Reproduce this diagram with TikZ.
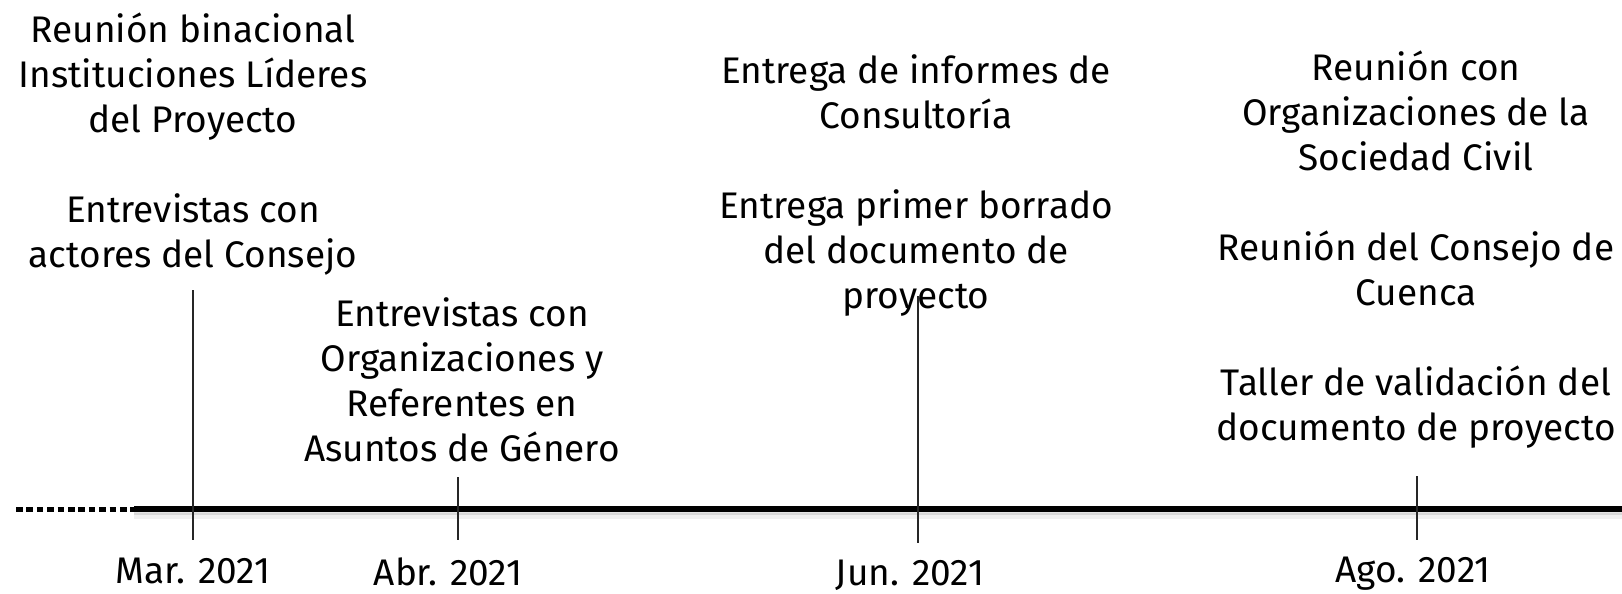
\documentclass[tikz,border=0pt]{standalone}
\usepackage{fontspec}
\setmainfont{Fira Sans}
\begin{document}
\begin{tikzpicture}[x=0.5pt,y=-0.5pt,
  lbl/.style={font=\fontsize{18.5}{22.5}\selectfont, align=center, inner sep=0pt, anchor=north},
  datelbl/.style={font=\fontsize{18.5}{22.5}\selectfont, inner sep=0pt, anchor=base},
  tickline/.style={line width=0.8pt, black!85},
  axisline/.style={line width=2.8pt, black},
  dotline/.style={line width=2.5pt, black, dash pattern=on 3.3pt off 1.9pt},
  shade/.style={line width=2pt, black, opacity=0.10},
]
\useasboundingbox (0,0) rectangle (1622,594);

% timeline
\coordinate (d0) at (16,509);
\coordinate (s0) at (134,509);
\coordinate (s1) at (1622,509);
\draw[shade] ([yshift=-2pt]s0) -- ([yshift=-2pt]s1);
\draw[shade, opacity=0.06, line width=3pt] ([yshift=-3.5pt]s0) -- ([yshift=-3.5pt]s1);
\draw[dotline] (d0) -- (s0);
\draw[axisline] (s0) -- (s1);

% ticks
\coordinate (mT) at (193,290); \coordinate (mB) at (193,540);
\coordinate (aT) at (458,477); \coordinate (aB) at (458,540);
\coordinate (jT) at (918,296); \coordinate (jB) at (918,543);
\coordinate (gT) at (1417,476); \coordinate (gB) at (1417,540);
\draw[tickline] (mT) -- (mB);
\draw[tickline] (aT) -- (aB);
\draw[tickline] (jT) -- (jB);
\draw[tickline] (gT) -- (gB);

% date labels
\node[datelbl] (mar) at (193,583) {Mar. 2021};
\node[datelbl] (abr) at (448,585) {Abr. 2021};
\node[datelbl] (jun) at (910,585) {Jun. 2021};
\node[datelbl] (ago) at (1413,582) {Ago. 2021};

% event texts
\node[lbl] (ev1) at (193,12) {Reunión binacional\\Instituciones Líderes\\del Proyecto\\[22.5pt]Entrevistas con\\actores del Consejo};
\node[lbl] (ev2) at (462,297) {Entrevistas con\\Organizaciones y\\Referentes en\\Asuntos de Género};
\node[lbl] (ev3) at (916,54) {Entrega de informes de\\Consultoría\\[22.5pt]Entrega primer borrado\\del documento de\\proyecto};
\node[lbl] (ev4) at (1416,50) {Reunión con\\Organizaciones de la\\Sociedad Civil\\[22.5pt]Reunión del Consejo de\\Cuenca\\[22.5pt]Taller de validación del\\documento de proyecto};
\end{tikzpicture}
\end{document}
